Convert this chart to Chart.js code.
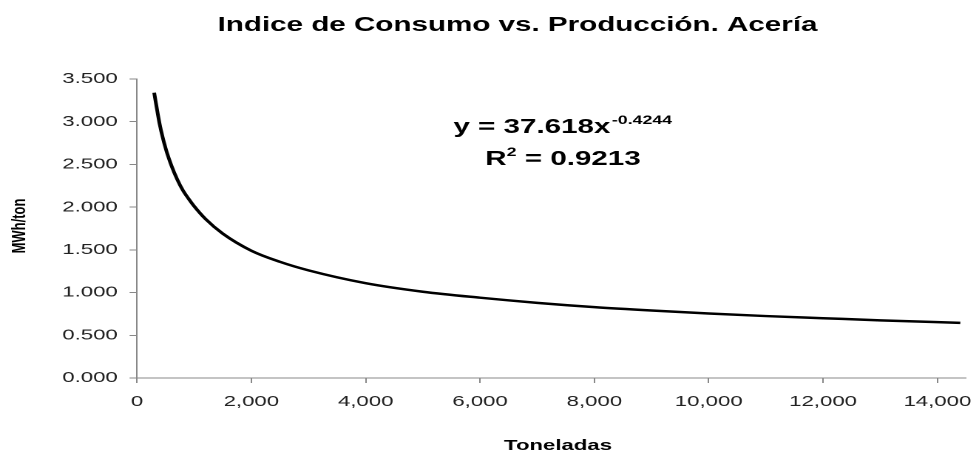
<!DOCTYPE html>
<html lang="es">
<head>
  <meta charset="UTF-8" />
  <title>Indice de Consumo vs. Producción. Acería</title>
  <script src="https://cdn.jsdelivr.net/npm/chart.js"></script>
  <style>
    body {
      margin: 0;
      padding: 0;
      background: #ffffff;
    }
  </style>
</head>
<body>
  <!-- the original picture is stretched sideways, so the canvas is drawn narrower and widened by css -->
  <canvas id="consumoChart" width="662" height="453" style="width:979px;height:453px;display:block;"></canvas>

  <script>
    // values
    const toneladas = [300, 400, 500, 600, 700, 800, 900, 1000, 1200, 1500, 2000, 2500, 3000, 4000, 5000, 6000, 7000, 8000, 9000, 10000, 11000, 12000, 13000, 14400];
    const mwhTon = [3.34, 2.96, 2.69, 2.49, 2.33, 2.20, 2.10, 2.01, 1.86, 1.69, 1.49, 1.36, 1.26, 1.11, 1.01, 0.94, 0.88, 0.83, 0.79, 0.755, 0.725, 0.70, 0.675, 0.645];

    const xTicks = [0, 2000, 4000, 6000, 8000, 10000, 12000, 14000];
    const yTicks = [0, 0.5, 1, 1.5, 2, 2.5, 3, 3.5];

    const titulo = 'Indice de Consumo vs. Producción. Acería';
    const tituloX = 'Toneladas';
    const tituloY = 'MWh/ton';
    const ecuacion = ['y = 37.618x', '-0.4244'];
    const r2 = ['R', '2', ' = 0.9213'];

    const stretch = 979 / 662;
    const fontFam = 'Arial, "Liberation Sans", sans-serif';

    const puntos = toneladas.map((t, i) => ({ x: t, y: mwhTon[i] }));

    // title, axis titles and trend equation
    const textos = {
      id: 'textos',
      afterDraw(chart) {
        const ctx = chart.ctx;
        ctx.save();
        ctx.fillStyle = '#000';
        ctx.textBaseline = 'alphabetic';

        ctx.font = 'bold 20px ' + fontFam;
        ctx.textAlign = 'center';
        ctx.fillText(titulo, 517.5 / stretch, 31);

        ctx.font = 'bold 15px ' + fontFam;
        ctx.fillText(tituloX, 558 / stretch, 450);

        ctx.save();
        ctx.translate(20 / stretch, 226);
        ctx.rotate(-Math.PI / 2);
        ctx.font = 'bold 13px ' + fontFam;
        ctx.textBaseline = 'middle';
        ctx.fillText(tituloY, 0, 0);
        ctx.restore();

        // equation line 1 with superscript
        ctx.textAlign = 'left';
        ctx.font = 'bold 20px ' + fontFam;
        const w1 = ctx.measureText(ecuacion[0]).width;
        ctx.font = 'bold 12px ' + fontFam;
        const w2 = ctx.measureText(ecuacion[1]).width;
        let x0 = 562 / stretch - (w1 + w2) / 2;
        ctx.font = 'bold 20px ' + fontFam;
        ctx.fillText(ecuacion[0], x0, 133);
        ctx.font = 'bold 12px ' + fontFam;
        ctx.fillText(ecuacion[1], x0 + w1 + 1, 124);

        // R squared
        ctx.font = 'bold 20px ' + fontFam;
        const a = ctx.measureText(r2[0]).width;
        const c = ctx.measureText(r2[2]).width;
        ctx.font = 'bold 12px ' + fontFam;
        const b = ctx.measureText(r2[1]).width;
        x0 = 563 / stretch - (a + b + c) / 2;
        ctx.font = 'bold 20px ' + fontFam;
        ctx.fillText(r2[0], x0, 165);
        ctx.font = 'bold 12px ' + fontFam;
        ctx.fillText(r2[1], x0 + a, 156);
        ctx.font = 'bold 20px ' + fontFam;
        ctx.fillText(r2[2], x0 + a + b, 165);

        ctx.restore();
      }
    };

    const ctx = document.getElementById('consumoChart').getContext('2d');
    const chart = new Chart(ctx, {
      type: 'line',
      data: {
        datasets: [{
          data: puntos,
          borderColor: '#000',
          borderWidth: 2.5,
          pointRadius: 0,
          fill: false,
          cubicInterpolationMode: 'monotone'
        }]
      },
      options: {
        responsive: false,
        devicePixelRatio: 2,
        animation: false,
        layout: {
          padding: { top: 79, right: 662 - 966 / stretch, bottom: 0, left: 0 }
        },
        plugins: {
          legend: { display: false },
          tooltip: { enabled: false }
        },
        scales: {
          x: {
            type: 'linear',
            min: 0,
            max: 14500,
            afterFit: s => {
              s.height = 453 - 378;
              s.paddingLeft = 0;
              s.paddingRight = 0;
            },
            afterBuildTicks: s => { s.ticks = xTicks.map(v => ({ value: v })); },
            grid: { drawOnChartArea: false, tickLength: 5, color: '#888' },
            border: { color: '#888', width: 1 },
            ticks: {
              padding: 10,
              color: '#222',
              font: { family: fontFam, size: 15 },
              maxRotation: 0,
              callback: v => v.toLocaleString('en-US')
            }
          },
          y: {
            min: 0,
            max: 3.5,
            afterFit: s => { s.width = 137 / stretch; },
            afterBuildTicks: s => { s.ticks = yTicks.map(v => ({ value: v })); },
            grid: { drawOnChartArea: false, tickLength: 5, color: '#888' },
            border: { color: '#888', width: 1 },
            ticks: {
              padding: 8,
              color: '#222',
              font: { family: fontFam, size: 15 },
              callback: v => v.toFixed(3)
            }
          }
        }
      },
      plugins: [textos]
    });
  </script>
</body>
</html>
